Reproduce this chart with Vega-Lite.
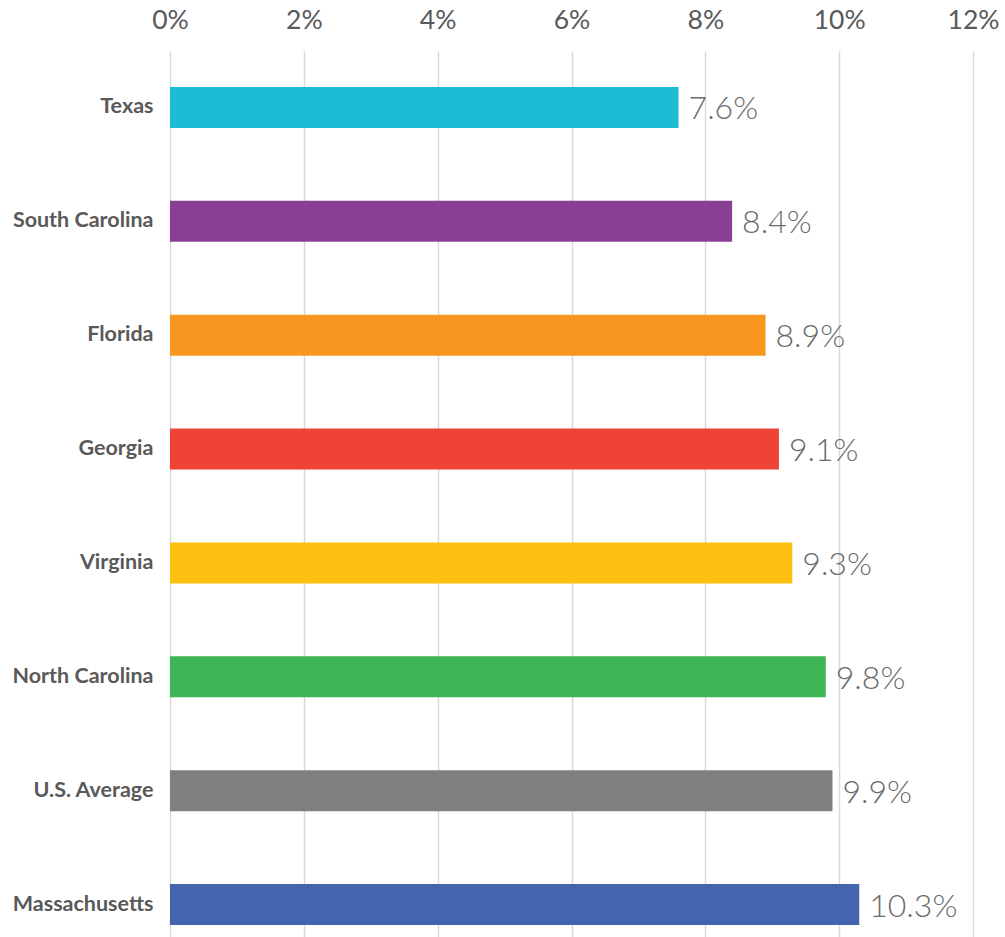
{
  "$schema": "https://vega.github.io/schema/vega-lite/v6.json",
  "autosize": {"type": "none"},
  "padding": {"left": 170, "top": 51, "right": 32, "bottom": 0},
  "width": 803,
  "height": 910,
  "background": "white",
  "data": {
    "values": [
      {"state": "Texas", "rate": 0.076, "color": "#1bbcd4"},
      {"state": "South Carolina", "rate": 0.084, "color": "#8b3e96"},
      {"state": "Florida", "rate": 0.089, "color": "#f7971f"},
      {"state": "Georgia", "rate": 0.091, "color": "#ee4336"},
      {"state": "Virginia", "rate": 0.093, "color": "#fdc010"},
      {"state": "North Carolina", "rate": 0.098, "color": "#3eb554"},
      {"state": "U.S. Average", "rate": 0.099, "color": "#7f7f7f"},
      {"state": "Massachusetts", "rate": 0.103, "color": "#4464ae"}
    ]
  },
  "config": {
    "view": {"stroke": null},
    "font": "Lato"
  },
  "encoding": {
    "y": {
      "field": "state",
      "type": "nominal",
      "sort": null,
      "scale": {"paddingInner": 0.64, "paddingOuter": 0.316},
      "axis": {
        "title": null,
        "domain": false,
        "ticks": false,
        "labelFont": "Lato",
        "labelFontWeight": "bold",
        "labelFontSize": 21.5,
        "labelColor": "#595959",
        "labelPadding": 17
      }
    },
    "x": {
      "field": "rate",
      "type": "quantitative",
      "scale": {"domain": [0, 0.12], "nice": false},
      "axis": {
        "orient": "top",
        "title": null,
        "format": ".0%",
        "values": [0, 0.02, 0.04, 0.06, 0.08, 0.1, 0.12],
        "domain": false,
        "ticks": false,
        "grid": true,
        "gridColor": "#d9d9d9",
        "gridWidth": 1.5,
        "labelFlush": false,
        "labelBound": false,
        "labelOverlap": false,
        "labelFont": "Lato",
        "labelFontSize": 26.5,
        "labelColor": "#595959",
        "labelPadding": 17
      }
    }
  },
  "layer": [
    {
      "mark": {"type": "bar"},
      "encoding": {
        "color": {"field": "color", "type": "nominal", "scale": null, "legend": null}
      }
    },
    {
      "mark": {"type": "text", "align": "left", "baseline": "middle", "dx": 10, "dy": 2, "font": "Lato", "fontWeight": 300, "fontSize": 32, "color": "#6b6b6b"},
      "encoding": {
        "text": {"field": "rate", "type": "quantitative", "format": ".1%"}
      }
    }
  ]
}
